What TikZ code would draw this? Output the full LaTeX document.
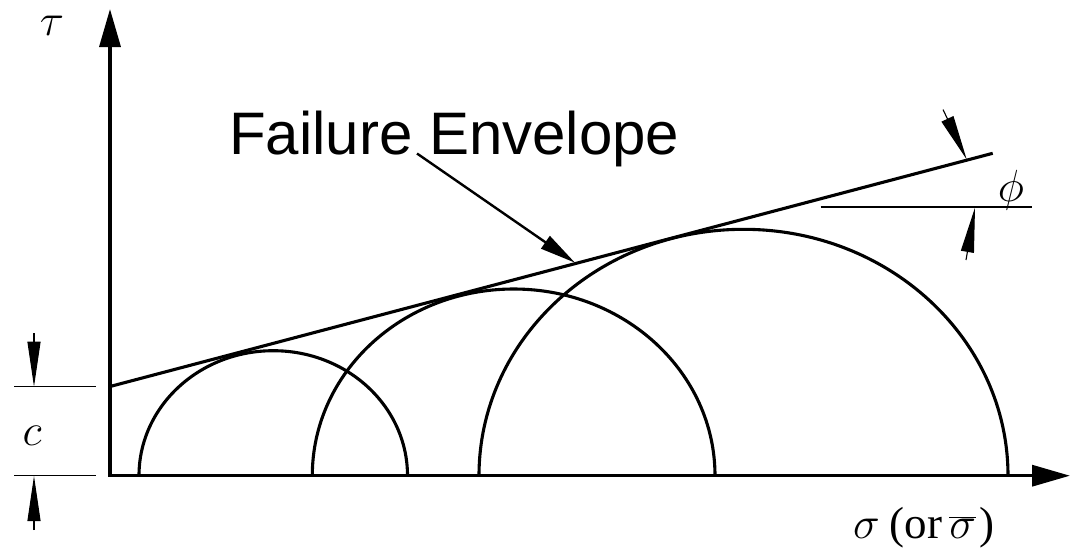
\RequirePackage{fix-cm}
\documentclass[tikz,border=0pt]{standalone}
\usepackage{fontspec}
\setmainfont{Liberation Serif}
\newfontfamily\arialfont{Liberation Sans}
\usetikzlibrary{arrows.meta}
\begin{document}
\begin{tikzpicture}[x=1pt,y=-1pt,
  axis/.style={line width=3.4pt, line join=miter,
    {Triangle[length=38pt,width=21pt]}-{Triangle[length=38pt,width=21pt]}},
  curve/.style={line width=3.1pt},
  pointer/.style={line width=2.4pt, -{Triangle[length=36pt,width=15pt]}},
  dimline/.style={line width=1.3pt},
  dimarrow/.style={line width=1.1pt, -{Triangle[length=45pt,width=13pt]}},
  lbl/.style={inner sep=0pt, font=\fontsize{45}{52}\selectfont},
]
\useasboundingbox (0,0) rectangle (1076,552);
% axes
\coordinate (O) at (110,475.7);
\coordinate (Ytip) at (110,9);
\coordinate (Xtip) at (1070,475.7);
\draw[axis] (Ytip) -- (O) -- (Xtip);
% Mohr circles
\coordinate (C1) at (139,475.7);
\coordinate (C2) at (312.3,475.7);
\coordinate (C3) at (479,475.7);
\draw[curve] (C1) arc[start angle=180, end angle=0, x radius=134.25pt, y radius=125pt];
\draw[curve] (C2) arc[start angle=180, end angle=0, x radius=201.35pt, y radius=186.7pt];
\draw[curve] (C3) arc[start angle=180, end angle=0, x radius=264.5pt, y radius=246.4pt];
% failure envelope
\coordinate (E0) at (110,386.5);
\coordinate (E1) at (992.7,153.3);
\draw[curve] (E0) -- (E1);
% label
\node[inner sep=0pt, anchor=base west, font=\arialfont\fontsize{60}{72}\selectfont]
  (fe) at (229,154) {Failure Envelope};
\coordinate (P0) at (417,153.5);
\coordinate (P1) at (575,262.7);
\draw[pointer] (P0) -- (P1);
% c dimension
\coordinate (cA) at (14,386.7);
\coordinate (cB) at (96,386.7);
\coordinate (cC) at (14,475.7);
\coordinate (cD) at (96,475.7);
\draw[dimline] (cA) -- (cB);
\draw[dimline] (cC) -- (cD);
\coordinate (cT0) at (34,333);
\coordinate (cT1) at (34,386.7);
\coordinate (cB0) at (34,530);
\coordinate (cB1) at (34,476);
\draw[dimarrow] (cT0) -- (cT1);
\draw[dimarrow] (cB0) -- (cB1);
\node[lbl] (c) at (32,436) {$c$};
% phi dimension
\coordinate (fA) at (820.7,207);
\coordinate (fB) at (1031.7,207);
\draw[dimline] (fA) -- (fB);
\coordinate (fU0) at (943,109.5);
\coordinate (fU1) at (966.7,159.5);
\coordinate (fL0) at (966,260);
\coordinate (fL1) at (975,207.5);
\draw[dimarrow] (fU0) -- (fU1);
\draw[dimarrow] (fL0) -- (fL1);
\node[lbl] (phi) at (1011,190) {$\phi$};
% axis labels
\node[lbl] (tau) at (52,26) {$\tau$};
\node[lbl, anchor=base west] (sig) at (853,538)
  {$\sigma$\hspace{10pt}(or\hspace{7pt}$\overline{\sigma}$\hspace{4pt})};
\end{tikzpicture}
\end{document}
